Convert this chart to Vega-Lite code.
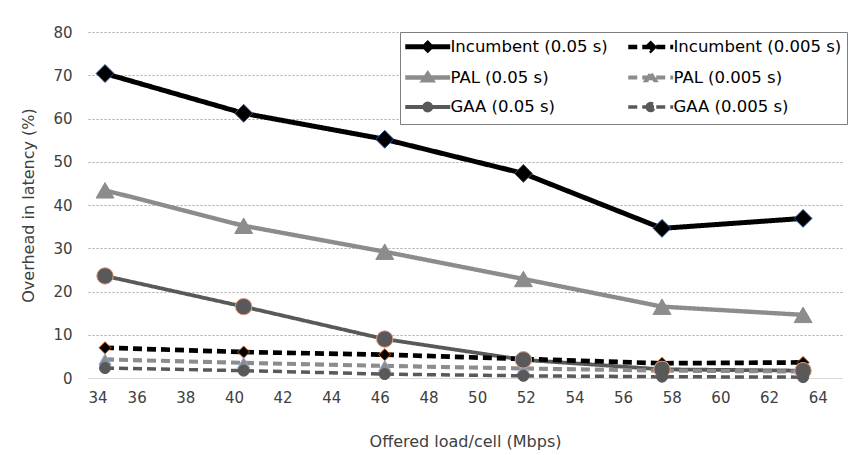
{
  "$schema": "https://vega.github.io/schema/vega-lite/v6.json",
  "width": 754,
  "height": 346,
  "autosize": {"type": "none"},
  "padding": {"left": 88, "top": 32, "right": 14, "bottom": 77},
  "background": "white",
  "config": {"font": "DejaVu Sans", "view": {"stroke": null}},
  "data": {"values": [
    {"s": "Incumbent (0.05 s)", "x": 34.7, "y": 70.4},
    {"s": "Incumbent (0.05 s)", "x": 40.4, "y": 61.2},
    {"s": "Incumbent (0.05 s)", "x": 46.2, "y": 55.2},
    {"s": "Incumbent (0.05 s)", "x": 51.9, "y": 47.3},
    {"s": "Incumbent (0.05 s)", "x": 57.6, "y": 34.6},
    {"s": "Incumbent (0.05 s)", "x": 63.4, "y": 36.9},
    {"s": "PAL (0.05 s)", "x": 34.7, "y": 43.4},
    {"s": "PAL (0.05 s)", "x": 40.4, "y": 35.2},
    {"s": "PAL (0.05 s)", "x": 46.2, "y": 29.2},
    {"s": "PAL (0.05 s)", "x": 51.9, "y": 22.9},
    {"s": "PAL (0.05 s)", "x": 57.6, "y": 16.5},
    {"s": "PAL (0.05 s)", "x": 63.4, "y": 14.6},
    {"s": "GAA (0.05 s)", "x": 34.7, "y": 23.6},
    {"s": "GAA (0.05 s)", "x": 40.4, "y": 16.5},
    {"s": "GAA (0.05 s)", "x": 46.2, "y": 9.0},
    {"s": "GAA (0.05 s)", "x": 51.9, "y": 4.2},
    {"s": "GAA (0.05 s)", "x": 57.6, "y": 2.0},
    {"s": "GAA (0.05 s)", "x": 63.4, "y": 1.7},
    {"s": "Incumbent (0.005 s)", "x": 34.7, "y": 7.0},
    {"s": "Incumbent (0.005 s)", "x": 40.4, "y": 6.0},
    {"s": "Incumbent (0.005 s)", "x": 46.2, "y": 5.4},
    {"s": "Incumbent (0.005 s)", "x": 51.9, "y": 4.4},
    {"s": "Incumbent (0.005 s)", "x": 57.6, "y": 3.4},
    {"s": "Incumbent (0.005 s)", "x": 63.4, "y": 3.6},
    {"s": "PAL (0.005 s)", "x": 34.7, "y": 4.3},
    {"s": "PAL (0.005 s)", "x": 40.4, "y": 3.5},
    {"s": "PAL (0.005 s)", "x": 46.2, "y": 2.8},
    {"s": "PAL (0.005 s)", "x": 51.9, "y": 2.2},
    {"s": "PAL (0.005 s)", "x": 57.6, "y": 1.7},
    {"s": "PAL (0.005 s)", "x": 63.4, "y": 1.5},
    {"s": "GAA (0.005 s)", "x": 34.7, "y": 2.3},
    {"s": "GAA (0.005 s)", "x": 40.4, "y": 1.7},
    {"s": "GAA (0.005 s)", "x": 46.2, "y": 0.9},
    {"s": "GAA (0.005 s)", "x": 51.9, "y": 0.5},
    {"s": "GAA (0.005 s)", "x": 57.6, "y": 0.3},
    {"s": "GAA (0.005 s)", "x": 63.4, "y": 0.2}
  ]},
  "encoding": {
    "x": {"field": "x", "type": "quantitative",
      "scale": {"domain": [34, 65], "nice": false, "zero": false},
      "axis": {"values": [34,36,38,40,42,44,46,48,50,52,54,56,58,60,62,64], "grid": false, "ticks": false,
        "domainColor": "#d9d9d9", "domainWidth": 1, "labelFontSize": 15, "labelColor": "#404040", "labelPadding": 12,
        "title": "Offered load/cell (Mbps)", "titleFontSize": 16, "titleFontWeight": "normal", "titleColor": "#404040",
        "titleY": 63, "titleBaseline": "middle"}},
    "y": {"field": "y", "type": "quantitative",
      "scale": {"domain": [0, 80], "nice": false},
      "axis": {"values": [0,10,20,30,40,50,60,70,80], "domain": false, "ticks": false, "grid": true,
        "gridColor": "#a6a6a6", "gridDash": [2, 2], "labelFontSize": 15, "labelColor": "#404040", "labelPadding": 16,
        "title": "Overhead in latency (%)", "titleFontSize": 16, "titleFontWeight": "normal", "titleColor": "#404040",
        "titleX": -60, "titleY": 173, "titleBaseline": "middle", "titleAlign": "center"}},
    "color": {"field": "s", "type": "nominal",
      "scale": {"domain": ["Incumbent (0.05 s)", "Incumbent (0.005 s)", "PAL (0.05 s)", "PAL (0.005 s)", "GAA (0.05 s)", "GAA (0.005 s)"],
        "range": ["#000000", "#000000", "#8c8c8c", "#8c8c8c", "#595959", "#595959"]},
      "legend": {
        "orient": "none", "legendX": 312, "legendY": 0, "columns": 2, "direction": "horizontal", "title": null,
        "fillColor": "white", "strokeColor": "#7f7f7f", "padding": 5,
        "labelFontSize": 16.5, "labelColor": "#000000", "labelFont": "DejaVu Sans",
        "symbolSize": 196, "labelOffset": 26.5, "rowPadding": 5, "columnPadding": 10,
        "labelLimit": 300,
        "encode": {"symbols": {"update": {
          "shape": {"signal": "indexof(datum.value,'Incumbent')>=0 ? 'M-1.32,0H5.1M1.89,-0.45L2.34,0L1.89,0.45L1.44,0Z' : (indexof(datum.value,'PAL')>=0 ? 'M-1.32,0H5.1M1.89,-0.5L2.49,0.4L1.29,0.4Z' : 'M-1.32,0H5.1M1.39,0A0.5,0.5,0,1,0,2.39,0A0.5,0.5,0,1,0,1.39,0Z')"},
          "size": {"value": 196},
          "strokeDash": {"signal": "indexof(datum.value,'0.005')>=0 ? [6,4] : [100,0]"},
          "strokeWidth": {"signal": "indexof(datum.value,'0.005')>=0 ? 3 : 4.5"},
          "fill": {"signal": "indexof(datum.value,'Incumbent')>=0 ? '#000000' : (indexof(datum.value,'PAL')>=0 ? '#8c8c8c' : '#595959')"},
          "stroke": {"signal": "indexof(datum.value,'Incumbent')>=0 ? '#000000' : (indexof(datum.value,'PAL')>=0 ? '#8c8c8c' : '#595959')"},
          "opacity": {"value": 1},
          "fillOpacity": {"value": 1},
          "strokeOpacity": {"value": 1}
        }}}
      }}
  },
  "layer": [
    {
      "mark": {"type": "line"},
      "encoding": {
        "strokeDash": {"field": "s", "type": "nominal",
          "scale": {"domain": ["Incumbent (0.05 s)", "Incumbent (0.005 s)", "PAL (0.05 s)", "PAL (0.005 s)", "GAA (0.05 s)", "GAA (0.005 s)"],
            "range": [[1, 0], [9, 5], [1, 0], [9, 5], [1, 0], [9, 5]]},
          "legend": null},
        "strokeWidth": {"field": "s", "type": "nominal",
          "scale": {"domain": ["Incumbent (0.05 s)", "Incumbent (0.005 s)", "PAL (0.05 s)", "PAL (0.005 s)", "GAA (0.05 s)", "GAA (0.005 s)"],
            "range": [5, 3.5, 4.5, 3.5, 5.5, 3.5]},
          "legend": null}
      }
    },
    {
      "transform": [{"filter": "datum.s === 'Incumbent (0.05 s)'"}],
      "mark": {"type": "point", "filled": true, "opacity": 1, "shape": "diamond", "size": 320, "stroke": "#2f5597", "strokeWidth": 1}
    },
    {
      "transform": [{"filter": "datum.s === 'Incumbent (0.005 s)'"}],
      "mark": {"type": "point", "filled": true, "opacity": 1, "shape": "diamond", "size": 144, "stroke": "#c55a11", "strokeWidth": 1}
    },
    {
      "transform": [{"filter": "datum.s === 'PAL (0.05 s)'"}],
      "mark": {"type": "point", "filled": true, "opacity": 1, "shape": "triangle-up", "size": 320, "stroke": "#8c8c8c", "strokeWidth": 1}
    },
    {
      "transform": [{"filter": "datum.s === 'PAL (0.005 s)'"}],
      "mark": {"type": "point", "filled": true, "opacity": 1, "shape": "triangle-up", "size": 150, "stroke": "#8faadc", "strokeWidth": 1}
    },
    {
      "transform": [{"filter": "datum.s === 'GAA (0.05 s)'"}],
      "mark": {"type": "point", "filled": true, "opacity": 1, "shape": "circle", "size": 270, "stroke": "#e0a080", "strokeWidth": 1}
    },
    {
      "transform": [{"filter": "datum.s === 'GAA (0.005 s)'"}],
      "mark": {"type": "point", "filled": true, "opacity": 1, "shape": "circle", "size": 121, "stroke": "#595959", "strokeWidth": 1}
    }
  ]
}
